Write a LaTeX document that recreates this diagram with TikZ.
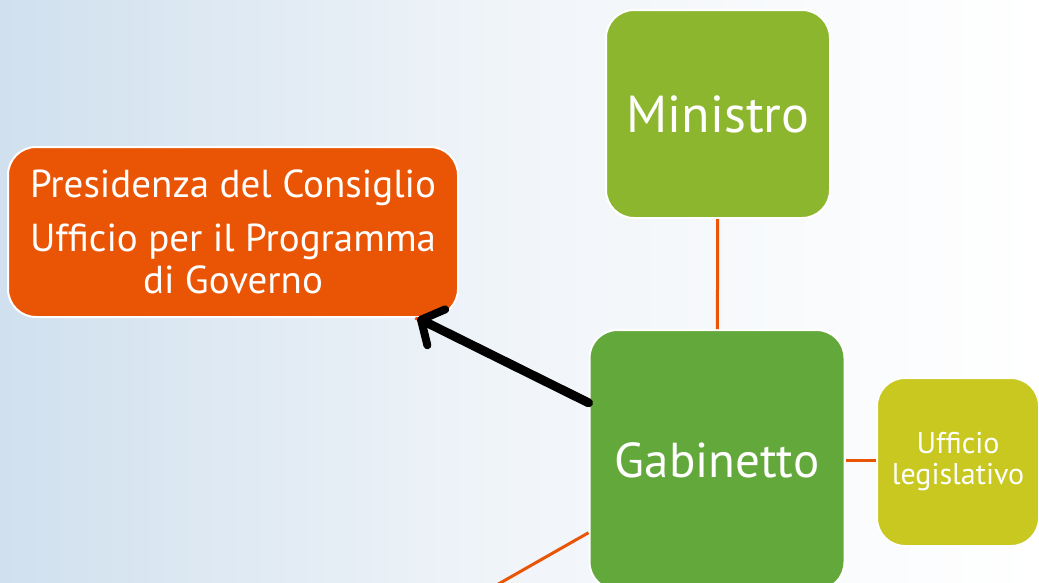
\documentclass[tikz,border=0pt]{standalone}
\usepackage{fontspec}
\setmainfont{PT Sans}
\usetikzlibrary{arrows.meta}

\definecolor{bgblue}{HTML}{D0E0EE}
\definecolor{bgmid}{HTML}{F1F5F9}
\definecolor{mingreen}{HTML}{8DB62F}
\definecolor{gabgreen}{HTML}{63A83B}
\definecolor{uffyellow}{HTML}{C8C820}
\definecolor{presorange}{HTML}{EA5505}

\tikzset{
  box/.style={rounded corners=28pt, draw=white, line width=2pt, text=white,
    align=center, inner sep=0pt},
  link/.style={draw=presorange, line width=3pt},
  pointer/.style={draw=black, line width=9pt, line cap=round,
    -{Straight Barb[length=17pt,width=40pt,line width=8pt,round]}}
}

\begin{document}
\begin{tikzpicture}[x=1pt,y=-1pt]
        \useasboundingbox (0,0) rectangle (1039,582);
        \shade[left color=bgblue, right color=bgmid] (0,0) rectangle (520,582);
        \shade[left color=bgmid, right color=white] (520,0) rectangle (1039,582);

        \node[box, fill=mingreen, minimum width=224pt, minimum height=208pt,
          font=\fontsize{52}{60}\selectfont] (min) at (718,114) {Ministro};
        \node[box, fill=presorange, minimum width=450pt, minimum height=170pt,
          font=\fontsize{39}{42}\selectfont] (pres) at (233,232)
          {Presidenza del Consiglio\\[12pt]Ufficio per il Programma\\di Governo};
        \node[box, fill=gabgreen, minimum width=255pt, minimum height=260pt,
          font=\fontsize{49}{56}\selectfont] (gab) at (717,460) {Gabinetto};
        \node[box, fill=uffyellow, minimum width=162pt, minimum height=168pt,
          font=\fontsize{30}{31}\selectfont] (uff) at (958,462) {Ufficio\\legislativo};
        \coordinate (sub) at (400,640);

        \draw[link] (min) -- (gab);
        \draw[link] (gab.east) -- (uff.west |- gab.east);
        \draw[link] (gab) -- (pres);
        \draw[link] (gab) -- (sub);
        \draw[pointer] (gab.156) -- (pres.-25);
    \end{tikzpicture}
\end{document}
